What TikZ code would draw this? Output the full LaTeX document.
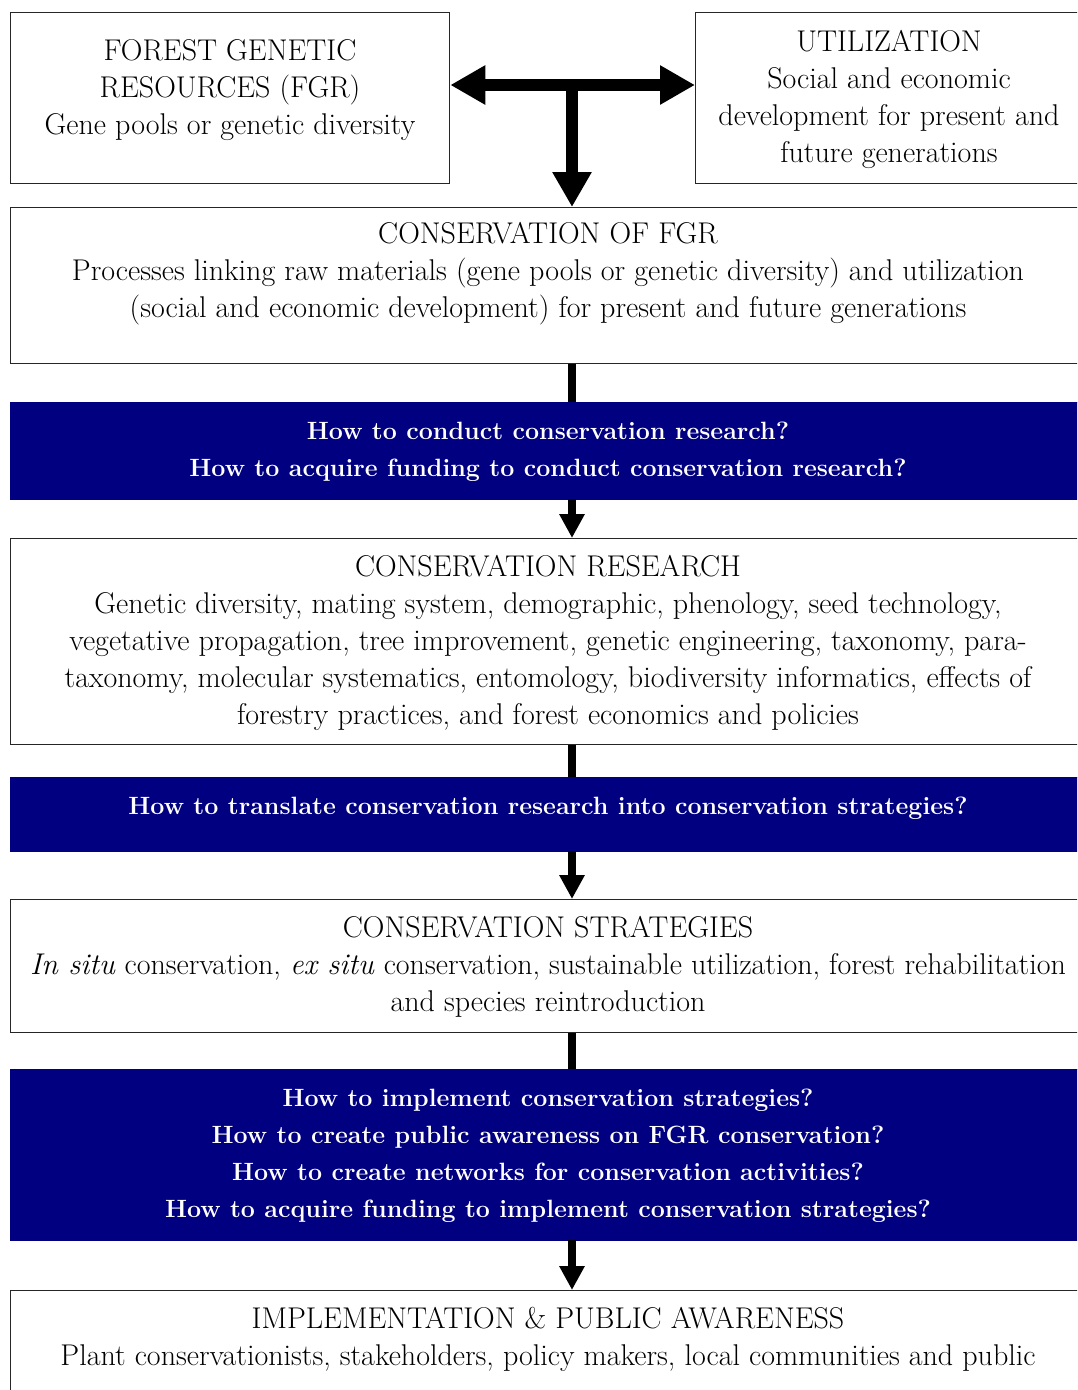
\documentclass[tikz,border=0pt]{standalone}
\usetikzlibrary{arrows.meta}
\definecolor{navyb}{RGB}{0,0,128}
\begin{document}
\begin{tikzpicture}[x=1pt,y=-1pt,
  box/.style={draw=black!85, line width=1.3pt, inner sep=0pt, anchor=north west},
  bluebox/.style={fill=navyb, draw=navyb, inner sep=0pt, anchor=north west},
  txt/.style={align=center, inner sep=0pt, font=\fontsize{30}{37}\selectfont},
  btxt/.style={align=center, inner sep=0pt, text=white, font=\fontsize{25}{37}\selectfont\bfseries},
  conn/.style={line width=8pt},
  arr/.style={line width=8pt, -{Triangle[width=24pt,length=24pt]}},
  bigarr/.style={line width=12pt, -{Triangle[width=37pt,length=35pt]}}]
\useasboundingbox (0,0) rectangle (1077,1390);
\clip (0,0) rectangle (1077,1390);
\fill[white] (0,0) rectangle (1077,1390);
% boxes
\node (fgr) [box, minimum width=439pt, minimum height=171pt] at (10,12) {};
\node (util) [box, minimum width=390pt, minimum height=171pt] at (695,12) {};
\node (cons) [box, minimum width=1075pt, minimum height=156pt] at (10,207) {};
\node (b1) [bluebox, minimum width=1075pt, minimum height=97pt] at (10,402) {};
\node (res) [box, minimum width=1075pt, minimum height=206pt] at (10,538) {};
\node (b2) [bluebox, minimum width=1075pt, minimum height=74pt] at (10,777) {};
\node (str) [box, minimum width=1075pt, minimum height=133pt] at (10,899) {};
\node (b3) [bluebox, minimum width=1075pt, minimum height=171pt] at (10,1069) {};
\node (imp) [box, minimum width=1075pt, minimum height=140pt] at (10,1290) {};
% texts
\node (tfgr) [txt] at (230,90) {FOREST GENETIC\\RESOURCES (FGR)\\Gene pools or genetic diversity};
\node (tutil) [txt] at (889,99) {UTILIZATION\\Social and economic\\development for present and\\future generations};
\node (tcons) [txt] at (548,274) {CONSERVATION OF FGR\\Processes linking raw materials (gene pools or genetic diversity) and utilization\\(social and economic development) for present and future generations};
\node (tb1) [btxt] at (548,452) {How to conduct conservation research?\\How to acquire funding to conduct conservation research?};
\node (tres) [txt] at (548,643) {CONSERVATION RESEARCH\\Genetic diversity, mating system, demographic, phenology, seed technology,\\vegetative propagation, tree improvement, genetic engineering, taxonomy, para-\\taxonomy, molecular systematics, entomology, biodiversity informatics, effects of\\forestry practices, and forest economics and policies};
\node (tb2) [btxt] at (548,808) {How to translate conservation research into conservation strategies?};
\node (tstr) [txt] at (548,967) {CONSERVATION STRATEGIES\\\textit{In situ} conservation, \textit{ex situ} conservation, sustainable utilization, forest rehabilitation\\and species reintroduction};
\node (tb3) [btxt] at (548,1156) {How to implement conservation strategies?\\How to create public awareness on FGR conservation?\\How to create networks for conservation activities?\\How to acquire funding to implement conservation strategies?};
\node (timp) [txt] at (548,1339) {IMPLEMENTATION \& PUBLIC AWARENESS\\Plant conservationists, stakeholders, policy makers, local communities and public};
% connectors
\coordinate (tj) at (572,85);
\draw[bigarr] (tj) -- (fgr.east |- tj);
\draw[bigarr] (tj) -- (util.west |- tj);
\draw[bigarr] (tj) -- (cons.north -| tj);
\draw[conn] (cons.south -| tj) -- (b1.north -| tj);
\draw[arr] (b1.south -| tj) -- (res.north -| tj);
\draw[conn] (res.south -| tj) -- (b2.north -| tj);
\draw[arr] (b2.south -| tj) -- (str.north -| tj);
\draw[conn] (str.south -| tj) -- (b3.north -| tj);
\draw[arr] (b3.south -| tj) -- (imp.north -| tj);
\end{tikzpicture}
\end{document}
